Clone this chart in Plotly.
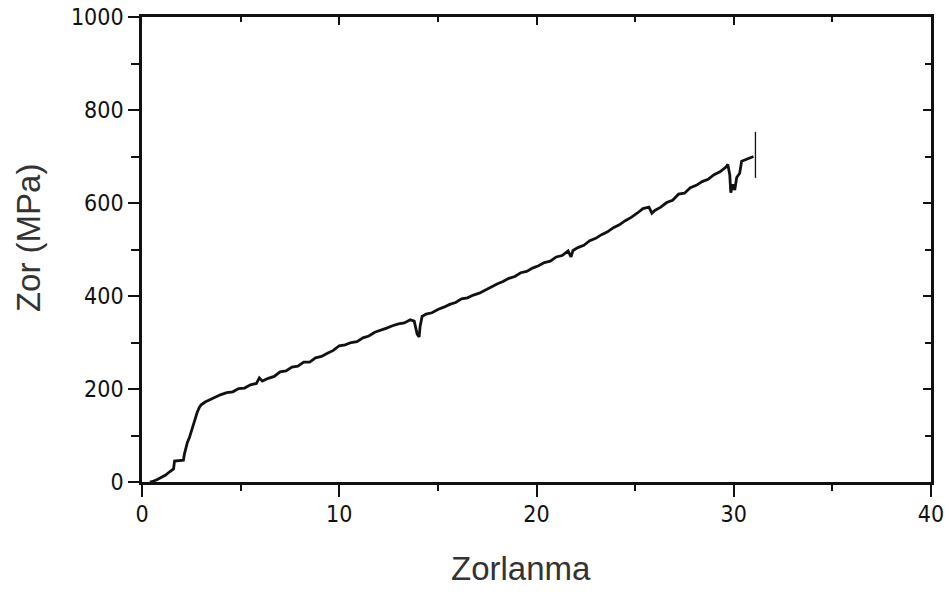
import plotly.graph_objects as go

# Stress-strain curve
strain = [0.4, 0.6, 0.8, 1.0, 1.2, 1.4, 1.6, 1.65, 1.9, 2.1, 2.15, 2.3, 2.4, 2.5, 2.6, 2.7, 2.8, 2.9, 3.0,
          3.2, 3.4, 3.6, 3.8, 4.0, 4.3, 4.6, 4.9, 5.2, 5.5, 5.8, 5.95, 6.1, 6.4, 6.7, 7.0, 7.3, 7.6, 7.9,
          8.2, 8.5, 8.8, 9.1, 9.4, 9.7, 10.0, 10.3, 10.6, 10.9, 11.2, 11.5, 11.8, 12.1, 12.4, 12.7, 13.0,
          13.3, 13.6, 13.8, 13.95, 14.05, 14.1, 14.2, 14.4, 14.7, 15.0, 15.3, 15.6, 15.9, 16.2, 16.5,
          16.8, 17.1, 17.4, 17.7, 18.0, 18.3, 18.6, 18.9, 19.2, 19.5, 19.8, 20.1, 20.4, 20.7, 21.0,
          21.3, 21.6, 21.75, 21.85, 22.1, 22.4, 22.7, 23.0, 23.3, 23.6, 23.9, 24.2, 24.5, 24.8, 25.1,
          25.4, 25.7, 25.85, 26.0, 26.3, 26.6, 26.9, 27.2, 27.5, 27.8, 28.1, 28.4, 28.7, 29.0, 29.3,
          29.6, 29.7, 29.8, 29.85, 29.95, 30.05, 30.15, 30.3, 30.4, 30.6, 30.8, 31.0]
stress = [0, 2, 6, 10, 15, 22, 28, 45, 46, 47, 60, 85, 95, 110, 125, 138, 150, 160, 166,
          172, 176, 180, 184, 188, 192, 194, 201, 202, 209, 212, 224, 217, 223, 227, 237, 239, 247, 249,
          258, 258, 267, 270, 277, 283, 293, 295, 300, 302, 310, 314, 322, 326, 331, 336, 340,
          342, 349, 346, 318, 312, 335, 356, 361, 364, 371, 376, 382, 386, 394, 396,
          402, 406, 413, 419, 426, 431, 438, 442, 450, 453, 460, 465, 472, 475, 484,
          487, 497, 484, 498, 504, 509, 519, 524, 532, 538, 547, 553, 562, 569, 578,
          588, 591, 578, 584, 591, 601, 606, 619, 621, 633, 638, 646, 651, 661, 667,
          677, 683, 660, 622, 640, 628, 655, 664, 690, 693, 697, 700]

# Fracture marker (vertical stroke at the end of the test)
end_strain = [31.1, 31.1]
end_stress = [753, 654]

x_ticks = [0, 10, 20, 30, 40]
y_ticks = [0, 200, 400, 600, 800, 1000]

fig = go.Figure()
fig.add_trace(go.Scatter(x=strain, y=stress, mode="lines",
                         line=dict(color="#111111", width=2.8), showlegend=False))
fig.add_trace(go.Scatter(x=end_strain, y=end_stress, mode="lines",
                         line=dict(color="#111111", width=1.3), showlegend=False))
# dummy trace to realise the mirrored (top/right) axes
fig.add_trace(go.Scatter(x=[None], y=[None], xaxis="x2", yaxis="y2", showlegend=False,
                         hoverinfo="skip"))

tick_font = dict(family="DejaVu Sans Condensed, Liberation Sans Narrow, Arial Narrow",
                 size=23, color="#111111")

common = dict(showgrid=False, zeroline=False, automargin=False,
              showline=True, linewidth=2.6, linecolor="#111111",
              tickwidth=2.2, tickcolor="#111111")

fig.update_layout(
    width=949, height=595,
    margin=dict(l=142, r=18, t=17, b=113),
    paper_bgcolor="white", plot_bgcolor="white",
    xaxis=dict(range=[0, 40], tickvals=x_ticks, ticktext=[str(v) for v in x_ticks],
               ticks="outside", ticklen=12, tickfont=tick_font, ticklabelstandoff=-2,
               minor=dict(dtick=5, tick0=0, ticks="outside", ticklen=6, tickwidth=2.2,
                          tickcolor="#111111", showgrid=False), **common),
    yaxis=dict(range=[0, 1000], tickvals=y_ticks, ticktext=[str(v) for v in y_ticks],
               ticks="outside", ticklen=11, tickfont=tick_font,
               minor=dict(dtick=100, tick0=0, ticks="outside", ticklen=8, tickwidth=2.2,
                          tickcolor="#111111", showgrid=False), **common),
    xaxis2=dict(range=[0, 40], overlaying="x", side="top", anchor="y",
                tickvals=x_ticks, ticks="inside", ticklen=8, showticklabels=False,
                minor=dict(dtick=5, tick0=0, ticks="inside", ticklen=5, tickwidth=2.2,
                           tickcolor="#111111", showgrid=False), **common),
    yaxis2=dict(range=[0, 1000], overlaying="y", side="right", anchor="x",
                tickvals=y_ticks, ticks="inside", ticklen=8, showticklabels=False,
                minor=dict(dtick=100, tick0=0, ticks="inside", ticklen=6, tickwidth=2.2,
                           tickcolor="#111111", showgrid=False), **common),
    annotations=[
        dict(text="Zorlanma", xref="paper", yref="paper", x=0.48, y=-0.185,
             xanchor="center", yanchor="middle", showarrow=False,
             font=dict(family="Liberation Sans, Arial", size=33, color="#333333")),
        dict(text="Zor (MPa)", xref="paper", yref="paper", x=-0.143, y=0.525,
             xanchor="center", yanchor="middle", showarrow=False, textangle=-90,
             font=dict(family="Liberation Sans, Arial", size=33, color="#333333")),
    ],
)

fig.write_html("out.html")
